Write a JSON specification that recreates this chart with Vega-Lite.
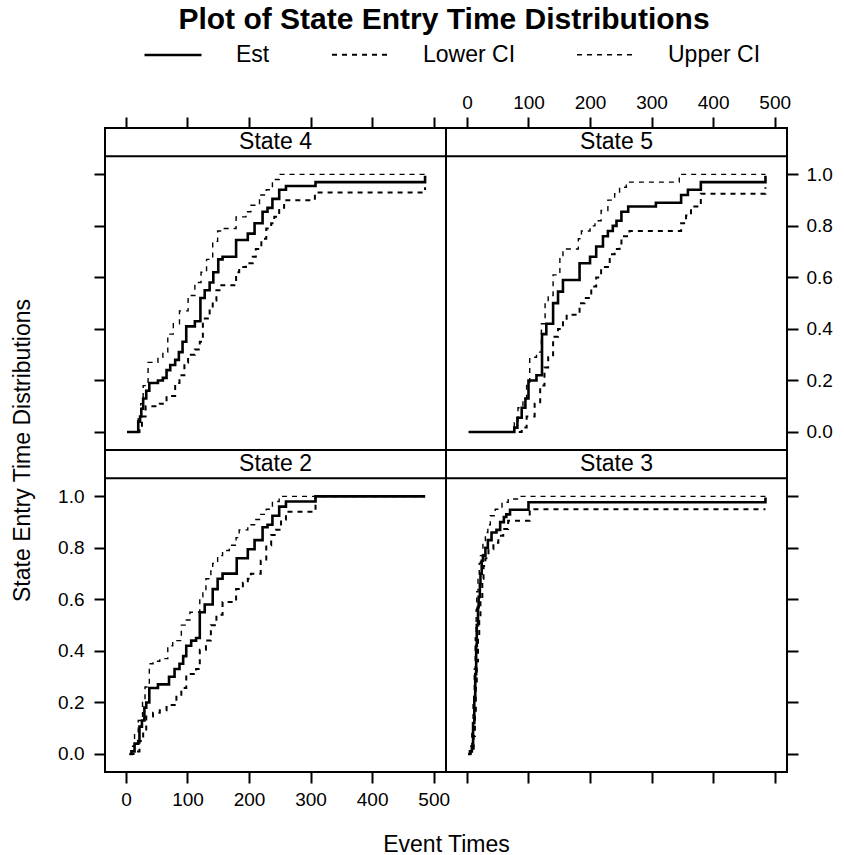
{
  "$schema": "https://vega.github.io/schema/vega-lite/v6.json",
  "background": "white",
  "padding": {"left": 10, "right": 5, "top": 5, "bottom": 5},
  "title": {"text": "Plot of State Entry Time Distributions", "font": "Liberation Sans", "fontSize": 30, "fontWeight": "bold", "color": "black", "anchor": "middle", "dx": 22, "offset": -10},
  "datasets": {
    "curves": [
      {"state":"State 4","series":"Est","time":2,"prob":0},
      {"state":"State 4","series":"Est","time":20,"prob":0.04},
      {"state":"State 4","series":"Est","time":23,"prob":0.06},
      {"state":"State 4","series":"Est","time":25,"prob":0.09},
      {"state":"State 4","series":"Est","time":28,"prob":0.13},
      {"state":"State 4","series":"Est","time":33,"prob":0.16},
      {"state":"State 4","series":"Est","time":38,"prob":0.19},
      {"state":"State 4","series":"Est","time":52,"prob":0.2},
      {"state":"State 4","series":"Est","time":60,"prob":0.21},
      {"state":"State 4","series":"Est","time":66,"prob":0.24},
      {"state":"State 4","series":"Est","time":72,"prob":0.26},
      {"state":"State 4","series":"Est","time":80,"prob":0.28},
      {"state":"State 4","series":"Est","time":86,"prob":0.31},
      {"state":"State 4","series":"Est","time":92,"prob":0.35},
      {"state":"State 4","series":"Est","time":98,"prob":0.41},
      {"state":"State 4","series":"Est","time":112,"prob":0.43},
      {"state":"State 4","series":"Est","time":121,"prob":0.52},
      {"state":"State 4","series":"Est","time":128,"prob":0.55},
      {"state":"State 4","series":"Est","time":136,"prob":0.58},
      {"state":"State 4","series":"Est","time":142,"prob":0.62},
      {"state":"State 4","series":"Est","time":150,"prob":0.67},
      {"state":"State 4","series":"Est","time":157,"prob":0.68},
      {"state":"State 4","series":"Est","time":179,"prob":0.745},
      {"state":"State 4","series":"Est","time":198,"prob":0.77},
      {"state":"State 4","series":"Est","time":209,"prob":0.81},
      {"state":"State 4","series":"Est","time":222,"prob":0.855},
      {"state":"State 4","series":"Est","time":230,"prob":0.87},
      {"state":"State 4","series":"Est","time":238,"prob":0.905},
      {"state":"State 4","series":"Est","time":249,"prob":0.94},
      {"state":"State 4","series":"Est","time":260,"prob":0.955},
      {"state":"State 4","series":"Est","time":308,"prob":0.97},
      {"state":"State 4","series":"Est","time":486,"prob":0.995},
      {"state":"State 4","series":"Upper CI","time":2,"prob":0},
      {"state":"State 4","series":"Upper CI","time":20,"prob":0.06},
      {"state":"State 4","series":"Upper CI","time":24,"prob":0.11},
      {"state":"State 4","series":"Upper CI","time":28,"prob":0.18},
      {"state":"State 4","series":"Upper CI","time":36,"prob":0.27},
      {"state":"State 4","series":"Upper CI","time":52,"prob":0.29},
      {"state":"State 4","series":"Upper CI","time":60,"prob":0.31},
      {"state":"State 4","series":"Upper CI","time":68,"prob":0.38},
      {"state":"State 4","series":"Upper CI","time":77,"prob":0.42},
      {"state":"State 4","series":"Upper CI","time":87,"prob":0.47},
      {"state":"State 4","series":"Upper CI","time":101,"prob":0.53},
      {"state":"State 4","series":"Upper CI","time":112,"prob":0.58},
      {"state":"State 4","series":"Upper CI","time":122,"prob":0.62},
      {"state":"State 4","series":"Upper CI","time":131,"prob":0.67},
      {"state":"State 4","series":"Upper CI","time":141,"prob":0.74},
      {"state":"State 4","series":"Upper CI","time":149,"prob":0.78},
      {"state":"State 4","series":"Upper CI","time":157,"prob":0.79},
      {"state":"State 4","series":"Upper CI","time":179,"prob":0.835},
      {"state":"State 4","series":"Upper CI","time":195,"prob":0.855},
      {"state":"State 4","series":"Upper CI","time":203,"prob":0.88},
      {"state":"State 4","series":"Upper CI","time":217,"prob":0.92},
      {"state":"State 4","series":"Upper CI","time":228,"prob":0.94},
      {"state":"State 4","series":"Upper CI","time":238,"prob":0.98},
      {"state":"State 4","series":"Upper CI","time":249,"prob":1.0},
      {"state":"State 4","series":"Upper CI","time":486,"prob":1.0},
      {"state":"State 4","series":"Lower CI","time":2,"prob":0},
      {"state":"State 4","series":"Lower CI","time":22,"prob":0.02},
      {"state":"State 4","series":"Lower CI","time":26,"prob":0.06},
      {"state":"State 4","series":"Lower CI","time":32,"prob":0.1},
      {"state":"State 4","series":"Lower CI","time":55,"prob":0.11},
      {"state":"State 4","series":"Lower CI","time":66,"prob":0.14},
      {"state":"State 4","series":"Lower CI","time":80,"prob":0.19},
      {"state":"State 4","series":"Lower CI","time":87,"prob":0.22},
      {"state":"State 4","series":"Lower CI","time":95,"prob":0.27},
      {"state":"State 4","series":"Lower CI","time":101,"prob":0.3},
      {"state":"State 4","series":"Lower CI","time":112,"prob":0.32},
      {"state":"State 4","series":"Lower CI","time":120,"prob":0.35},
      {"state":"State 4","series":"Lower CI","time":125,"prob":0.44},
      {"state":"State 4","series":"Lower CI","time":136,"prob":0.48},
      {"state":"State 4","series":"Lower CI","time":141,"prob":0.51},
      {"state":"State 4","series":"Lower CI","time":147,"prob":0.55},
      {"state":"State 4","series":"Lower CI","time":155,"prob":0.57},
      {"state":"State 4","series":"Lower CI","time":179,"prob":0.62},
      {"state":"State 4","series":"Lower CI","time":184,"prob":0.64},
      {"state":"State 4","series":"Lower CI","time":195,"prob":0.655},
      {"state":"State 4","series":"Lower CI","time":206,"prob":0.68},
      {"state":"State 4","series":"Lower CI","time":211,"prob":0.71},
      {"state":"State 4","series":"Lower CI","time":220,"prob":0.75},
      {"state":"State 4","series":"Lower CI","time":228,"prob":0.79},
      {"state":"State 4","series":"Lower CI","time":236,"prob":0.81},
      {"state":"State 4","series":"Lower CI","time":241,"prob":0.835},
      {"state":"State 4","series":"Lower CI","time":249,"prob":0.87},
      {"state":"State 4","series":"Lower CI","time":257,"prob":0.9},
      {"state":"State 4","series":"Lower CI","time":307,"prob":0.93},
      {"state":"State 4","series":"Lower CI","time":486,"prob":0.95},

      {"state":"State 5","series":"Est","time":3,"prob":0},
      {"state":"State 5","series":"Est","time":77,"prob":0.017},
      {"state":"State 5","series":"Est","time":82,"prob":0.055},
      {"state":"State 5","series":"Est","time":89,"prob":0.094},
      {"state":"State 5","series":"Est","time":95,"prob":0.13},
      {"state":"State 5","series":"Est","time":100,"prob":0.2},
      {"state":"State 5","series":"Est","time":113,"prob":0.22},
      {"state":"State 5","series":"Est","time":122,"prob":0.38},
      {"state":"State 5","series":"Est","time":129,"prob":0.42},
      {"state":"State 5","series":"Est","time":140,"prob":0.5},
      {"state":"State 5","series":"Est","time":148,"prob":0.545},
      {"state":"State 5","series":"Est","time":156,"prob":0.59},
      {"state":"State 5","series":"Est","time":183,"prob":0.655},
      {"state":"State 5","series":"Est","time":200,"prob":0.68},
      {"state":"State 5","series":"Est","time":210,"prob":0.72},
      {"state":"State 5","series":"Est","time":221,"prob":0.76},
      {"state":"State 5","series":"Est","time":229,"prob":0.78},
      {"state":"State 5","series":"Est","time":237,"prob":0.8},
      {"state":"State 5","series":"Est","time":243,"prob":0.82},
      {"state":"State 5","series":"Est","time":251,"prob":0.855},
      {"state":"State 5","series":"Est","time":262,"prob":0.875},
      {"state":"State 5","series":"Est","time":307,"prob":0.89},
      {"state":"State 5","series":"Est","time":348,"prob":0.92},
      {"state":"State 5","series":"Est","time":359,"prob":0.94},
      {"state":"State 5","series":"Est","time":380,"prob":0.97},
      {"state":"State 5","series":"Est","time":485,"prob":0.995},
      {"state":"State 5","series":"Upper CI","time":3,"prob":0},
      {"state":"State 5","series":"Upper CI","time":77,"prob":0.036},
      {"state":"State 5","series":"Upper CI","time":83,"prob":0.094},
      {"state":"State 5","series":"Upper CI","time":91,"prob":0.13},
      {"state":"State 5","series":"Upper CI","time":97,"prob":0.19},
      {"state":"State 5","series":"Upper CI","time":102,"prob":0.29},
      {"state":"State 5","series":"Upper CI","time":113,"prob":0.31},
      {"state":"State 5","series":"Upper CI","time":121,"prob":0.42},
      {"state":"State 5","series":"Upper CI","time":127,"prob":0.5},
      {"state":"State 5","series":"Upper CI","time":132,"prob":0.53},
      {"state":"State 5","series":"Upper CI","time":140,"prob":0.61},
      {"state":"State 5","series":"Upper CI","time":151,"prob":0.68},
      {"state":"State 5","series":"Upper CI","time":156,"prob":0.71},
      {"state":"State 5","series":"Upper CI","time":181,"prob":0.75},
      {"state":"State 5","series":"Upper CI","time":186,"prob":0.78},
      {"state":"State 5","series":"Upper CI","time":200,"prob":0.8},
      {"state":"State 5","series":"Upper CI","time":208,"prob":0.82},
      {"state":"State 5","series":"Upper CI","time":218,"prob":0.86},
      {"state":"State 5","series":"Upper CI","time":229,"prob":0.9},
      {"state":"State 5","series":"Upper CI","time":240,"prob":0.925},
      {"state":"State 5","series":"Upper CI","time":248,"prob":0.95},
      {"state":"State 5","series":"Upper CI","time":259,"prob":0.97},
      {"state":"State 5","series":"Upper CI","time":345,"prob":1.0},
      {"state":"State 5","series":"Upper CI","time":485,"prob":1.0},
      {"state":"State 5","series":"Lower CI","time":3,"prob":0},
      {"state":"State 5","series":"Lower CI","time":89,"prob":0.017},
      {"state":"State 5","series":"Lower CI","time":97,"prob":0.06},
      {"state":"State 5","series":"Lower CI","time":110,"prob":0.11},
      {"state":"State 5","series":"Lower CI","time":119,"prob":0.18},
      {"state":"State 5","series":"Lower CI","time":126,"prob":0.25},
      {"state":"State 5","series":"Lower CI","time":132,"prob":0.29},
      {"state":"State 5","series":"Lower CI","time":140,"prob":0.37},
      {"state":"State 5","series":"Lower CI","time":148,"prob":0.4},
      {"state":"State 5","series":"Lower CI","time":156,"prob":0.435},
      {"state":"State 5","series":"Lower CI","time":162,"prob":0.455},
      {"state":"State 5","series":"Lower CI","time":183,"prob":0.5},
      {"state":"State 5","series":"Lower CI","time":191,"prob":0.52},
      {"state":"State 5","series":"Lower CI","time":202,"prob":0.565},
      {"state":"State 5","series":"Lower CI","time":210,"prob":0.6},
      {"state":"State 5","series":"Lower CI","time":218,"prob":0.64},
      {"state":"State 5","series":"Lower CI","time":232,"prob":0.69},
      {"state":"State 5","series":"Lower CI","time":240,"prob":0.71},
      {"state":"State 5","series":"Lower CI","time":248,"prob":0.725},
      {"state":"State 5","series":"Lower CI","time":251,"prob":0.76},
      {"state":"State 5","series":"Lower CI","time":264,"prob":0.78},
      {"state":"State 5","series":"Lower CI","time":348,"prob":0.81},
      {"state":"State 5","series":"Lower CI","time":356,"prob":0.84},
      {"state":"State 5","series":"Lower CI","time":364,"prob":0.875},
      {"state":"State 5","series":"Lower CI","time":380,"prob":0.925},
      {"state":"State 5","series":"Lower CI","time":485,"prob":0.95},

      {"state":"State 2","series":"Est","time":6,"prob":0},
      {"state":"State 2","series":"Est","time":9,"prob":0.01},
      {"state":"State 2","series":"Est","time":14,"prob":0.04},
      {"state":"State 2","series":"Est","time":20,"prob":0.05},
      {"state":"State 2","series":"Est","time":22,"prob":0.106},
      {"state":"State 2","series":"Est","time":26,"prob":0.13},
      {"state":"State 2","series":"Est","time":30,"prob":0.18},
      {"state":"State 2","series":"Est","time":33,"prob":0.2},
      {"state":"State 2","series":"Est","time":38,"prob":0.256},
      {"state":"State 2","series":"Est","time":52,"prob":0.27},
      {"state":"State 2","series":"Est","time":70,"prob":0.3},
      {"state":"State 2","series":"Est","time":79,"prob":0.33},
      {"state":"State 2","series":"Est","time":87,"prob":0.35},
      {"state":"State 2","series":"Est","time":93,"prob":0.38},
      {"state":"State 2","series":"Est","time":98,"prob":0.42},
      {"state":"State 2","series":"Est","time":106,"prob":0.44},
      {"state":"State 2","series":"Est","time":114,"prob":0.45},
      {"state":"State 2","series":"Est","time":120,"prob":0.55},
      {"state":"State 2","series":"Est","time":128,"prob":0.58},
      {"state":"State 2","series":"Est","time":141,"prob":0.64},
      {"state":"State 2","series":"Est","time":149,"prob":0.68},
      {"state":"State 2","series":"Est","time":157,"prob":0.7},
      {"state":"State 2","series":"Est","time":180,"prob":0.76},
      {"state":"State 2","series":"Est","time":198,"prob":0.795},
      {"state":"State 2","series":"Est","time":209,"prob":0.83},
      {"state":"State 2","series":"Est","time":222,"prob":0.88},
      {"state":"State 2","series":"Est","time":230,"prob":0.89},
      {"state":"State 2","series":"Est","time":238,"prob":0.925},
      {"state":"State 2","series":"Est","time":249,"prob":0.96},
      {"state":"State 2","series":"Est","time":260,"prob":0.98},
      {"state":"State 2","series":"Est","time":308,"prob":1.0},
      {"state":"State 2","series":"Est","time":486,"prob":1.0},
      {"state":"State 2","series":"Upper CI","time":6,"prob":0},
      {"state":"State 2","series":"Upper CI","time":9,"prob":0.03},
      {"state":"State 2","series":"Upper CI","time":14,"prob":0.08},
      {"state":"State 2","series":"Upper CI","time":20,"prob":0.13},
      {"state":"State 2","series":"Upper CI","time":27,"prob":0.2},
      {"state":"State 2","series":"Upper CI","time":31,"prob":0.26},
      {"state":"State 2","series":"Upper CI","time":38,"prob":0.35},
      {"state":"State 2","series":"Upper CI","time":44,"prob":0.36},
      {"state":"State 2","series":"Upper CI","time":55,"prob":0.37},
      {"state":"State 2","series":"Upper CI","time":68,"prob":0.42},
      {"state":"State 2","series":"Upper CI","time":76,"prob":0.44},
      {"state":"State 2","series":"Upper CI","time":90,"prob":0.5},
      {"state":"State 2","series":"Upper CI","time":98,"prob":0.52},
      {"state":"State 2","series":"Upper CI","time":104,"prob":0.55},
      {"state":"State 2","series":"Upper CI","time":120,"prob":0.61},
      {"state":"State 2","series":"Upper CI","time":125,"prob":0.63},
      {"state":"State 2","series":"Upper CI","time":130,"prob":0.68},
      {"state":"State 2","series":"Upper CI","time":138,"prob":0.71},
      {"state":"State 2","series":"Upper CI","time":141,"prob":0.74},
      {"state":"State 2","series":"Upper CI","time":149,"prob":0.77},
      {"state":"State 2","series":"Upper CI","time":157,"prob":0.79},
      {"state":"State 2","series":"Upper CI","time":168,"prob":0.81},
      {"state":"State 2","series":"Upper CI","time":179,"prob":0.84},
      {"state":"State 2","series":"Upper CI","time":184,"prob":0.87},
      {"state":"State 2","series":"Upper CI","time":198,"prob":0.89},
      {"state":"State 2","series":"Upper CI","time":209,"prob":0.91},
      {"state":"State 2","series":"Upper CI","time":217,"prob":0.93},
      {"state":"State 2","series":"Upper CI","time":228,"prob":0.95},
      {"state":"State 2","series":"Upper CI","time":238,"prob":0.98},
      {"state":"State 2","series":"Upper CI","time":249,"prob":1.0},
      {"state":"State 2","series":"Upper CI","time":486,"prob":1.0},
      {"state":"State 2","series":"Lower CI","time":6,"prob":0},
      {"state":"State 2","series":"Lower CI","time":17,"prob":0.01},
      {"state":"State 2","series":"Lower CI","time":22,"prob":0.05},
      {"state":"State 2","series":"Lower CI","time":28,"prob":0.09},
      {"state":"State 2","series":"Lower CI","time":33,"prob":0.145},
      {"state":"State 2","series":"Lower CI","time":44,"prob":0.16},
      {"state":"State 2","series":"Lower CI","time":55,"prob":0.17},
      {"state":"State 2","series":"Lower CI","time":66,"prob":0.19},
      {"state":"State 2","series":"Lower CI","time":82,"prob":0.23},
      {"state":"State 2","series":"Lower CI","time":90,"prob":0.256},
      {"state":"State 2","series":"Lower CI","time":98,"prob":0.31},
      {"state":"State 2","series":"Lower CI","time":114,"prob":0.33},
      {"state":"State 2","series":"Lower CI","time":120,"prob":0.405},
      {"state":"State 2","series":"Lower CI","time":130,"prob":0.44},
      {"state":"State 2","series":"Lower CI","time":138,"prob":0.5},
      {"state":"State 2","series":"Lower CI","time":147,"prob":0.54},
      {"state":"State 2","series":"Lower CI","time":157,"prob":0.59},
      {"state":"State 2","series":"Lower CI","time":179,"prob":0.64},
      {"state":"State 2","series":"Lower CI","time":190,"prob":0.665},
      {"state":"State 2","series":"Lower CI","time":198,"prob":0.68},
      {"state":"State 2","series":"Lower CI","time":203,"prob":0.7},
      {"state":"State 2","series":"Lower CI","time":219,"prob":0.75},
      {"state":"State 2","series":"Lower CI","time":228,"prob":0.81},
      {"state":"State 2","series":"Lower CI","time":236,"prob":0.85},
      {"state":"State 2","series":"Lower CI","time":244,"prob":0.87},
      {"state":"State 2","series":"Lower CI","time":252,"prob":0.91},
      {"state":"State 2","series":"Lower CI","time":260,"prob":0.94},
      {"state":"State 2","series":"Lower CI","time":308,"prob":1.0},
      {"state":"State 2","series":"Lower CI","time":486,"prob":1.0},

      {"state":"State 3","series":"Est","time":2,"prob":0},
      {"state":"State 3","series":"Est","time":5,"prob":0.01},
      {"state":"State 3","series":"Est","time":8,"prob":0.03},
      {"state":"State 3","series":"Est","time":10,"prob":0.12},
      {"state":"State 3","series":"Est","time":12,"prob":0.22},
      {"state":"State 3","series":"Est","time":13.5,"prob":0.31},
      {"state":"State 3","series":"Est","time":15,"prob":0.42},
      {"state":"State 3","series":"Est","time":16,"prob":0.5},
      {"state":"State 3","series":"Est","time":18,"prob":0.57},
      {"state":"State 3","series":"Est","time":19,"prob":0.61},
      {"state":"State 3","series":"Est","time":21,"prob":0.66},
      {"state":"State 3","series":"Est","time":22,"prob":0.7},
      {"state":"State 3","series":"Est","time":24,"prob":0.75},
      {"state":"State 3","series":"Est","time":26,"prob":0.77},
      {"state":"State 3","series":"Est","time":30,"prob":0.8},
      {"state":"State 3","series":"Est","time":34,"prob":0.83},
      {"state":"State 3","series":"Est","time":40,"prob":0.86},
      {"state":"State 3","series":"Est","time":48,"prob":0.87},
      {"state":"State 3","series":"Est","time":54,"prob":0.9},
      {"state":"State 3","series":"Est","time":60,"prob":0.92},
      {"state":"State 3","series":"Est","time":64,"prob":0.93},
      {"state":"State 3","series":"Est","time":70,"prob":0.948},
      {"state":"State 3","series":"Est","time":100,"prob":0.977},
      {"state":"State 3","series":"Est","time":485,"prob":0.996},
      {"state":"State 3","series":"Upper CI","time":2,"prob":0},
      {"state":"State 3","series":"Upper CI","time":5,"prob":0.03},
      {"state":"State 3","series":"Upper CI","time":8,"prob":0.08},
      {"state":"State 3","series":"Upper CI","time":10,"prob":0.2},
      {"state":"State 3","series":"Upper CI","time":12,"prob":0.33},
      {"state":"State 3","series":"Upper CI","time":13.5,"prob":0.45},
      {"state":"State 3","series":"Upper CI","time":15,"prob":0.56},
      {"state":"State 3","series":"Upper CI","time":16,"prob":0.63},
      {"state":"State 3","series":"Upper CI","time":18,"prob":0.69},
      {"state":"State 3","series":"Upper CI","time":20,"prob":0.74},
      {"state":"State 3","series":"Upper CI","time":22,"prob":0.77},
      {"state":"State 3","series":"Upper CI","time":26,"prob":0.82},
      {"state":"State 3","series":"Upper CI","time":30,"prob":0.86},
      {"state":"State 3","series":"Upper CI","time":34,"prob":0.89},
      {"state":"State 3","series":"Upper CI","time":38,"prob":0.925},
      {"state":"State 3","series":"Upper CI","time":46,"prob":0.95},
      {"state":"State 3","series":"Upper CI","time":57,"prob":0.977},
      {"state":"State 3","series":"Upper CI","time":67,"prob":0.99},
      {"state":"State 3","series":"Upper CI","time":84,"prob":1.0},
      {"state":"State 3","series":"Upper CI","time":485,"prob":1.0},
      {"state":"State 3","series":"Lower CI","time":2,"prob":0},
      {"state":"State 3","series":"Lower CI","time":6,"prob":0.005},
      {"state":"State 3","series":"Lower CI","time":9,"prob":0.02},
      {"state":"State 3","series":"Lower CI","time":11,"prob":0.07},
      {"state":"State 3","series":"Lower CI","time":13,"prob":0.16},
      {"state":"State 3","series":"Lower CI","time":14.5,"prob":0.26},
      {"state":"State 3","series":"Lower CI","time":16,"prob":0.36},
      {"state":"State 3","series":"Lower CI","time":18,"prob":0.45},
      {"state":"State 3","series":"Lower CI","time":20,"prob":0.53},
      {"state":"State 3","series":"Lower CI","time":22,"prob":0.6},
      {"state":"State 3","series":"Lower CI","time":25,"prob":0.68},
      {"state":"State 3","series":"Lower CI","time":27,"prob":0.73},
      {"state":"State 3","series":"Lower CI","time":30,"prob":0.76},
      {"state":"State 3","series":"Lower CI","time":35,"prob":0.795},
      {"state":"State 3","series":"Lower CI","time":43,"prob":0.82},
      {"state":"State 3","series":"Lower CI","time":51,"prob":0.847},
      {"state":"State 3","series":"Lower CI","time":59,"prob":0.873},
      {"state":"State 3","series":"Lower CI","time":67,"prob":0.905},
      {"state":"State 3","series":"Lower CI","time":102,"prob":0.95},
      {"state":"State 3","series":"Lower CI","time":485,"prob":0.95}
    ]
  },
  "columns": 2,
  "spacing": 0,
  "bounds": "flush",
  "resolve": {"scale": {"strokeDash": "shared", "strokeWidth": "shared"}, "legend": {"strokeDash": "shared", "strokeWidth": "shared"}},
  "concat": [
    {
      "width": 341, "height": 322,
      "layer": [
        {
          "data": {"name": "curves"},
          "transform": [{"filter": "datum.state == 'State 4'"}],
          "mark": {"type": "line", "interpolate": "step-after", "color": "black"},
          "encoding": {
            "x": {"field": "time", "type": "quantitative", "scale": {"domain": [-34, 520], "nice": false, "zero": false}, "axis": {"orient": "top", "labels": false, "title": null, "values": [0, 100, 200, 300, 400, 500]}},
            "y": {"field": "prob", "type": "quantitative", "scale": {"domain": [-0.07, 1.18], "nice": false, "zero": false}, "axis": {"orient": "left", "labels": false, "title": null, "values": [0, 0.2, 0.4, 0.6, 0.8, 1.0]}},
            "strokeDash": {"field": "series", "type": "nominal", "scale": {"domain": ["Est", "Lower CI", "Upper CI"], "range": [[1, 0], [5, 5], [5, 5]]}, "legend": {"title": null}},
            "strokeWidth": {"field": "series", "type": "nominal", "scale": {"domain": ["Est", "Lower CI", "Upper CI"], "range": [2.6, 1.4, 1.4]}, "legend": {"title": null}}
          }
        },
        {
          "data": {"values": [{"label": "State 4"}]},
          "mark": {"type": "rect", "fill": "white", "stroke": "black", "strokeWidth": 2},
          "encoding": {
            "x": {"datum": -34, "type": "quantitative"},
            "x2": {"datum": 520},
            "y": {"datum": 1.07, "type": "quantitative"},
            "y2": {"datum": 1.18}
          }
        },
        {
          "data": {"values": [{"label": "State 4"}]},
          "mark": {"type": "text", "font": "Liberation Sans", "fontSize": 23, "color": "black", "baseline": "middle", "align": "center"},
          "encoding": {
            "x": {"datum": 243, "type": "quantitative"},
            "y": {"datum": 1.125, "type": "quantitative"},
            "text": {"field": "label"}
          }
        }
      ]
    },
    {
      "width": 341, "height": 322,
      "layer": [
        {
          "data": {"name": "curves"},
          "transform": [{"filter": "datum.state == 'State 5'"}],
          "mark": {"type": "line", "interpolate": "step-after", "color": "black"},
          "encoding": {
            "x": {"field": "time", "type": "quantitative", "scale": {"domain": [-34, 520], "nice": false, "zero": false}, "axis": {"orient": "top", "title": null, "labelPadding": 5, "values": [0, 100, 200, 300, 400, 500]}},
            "y": {"field": "prob", "type": "quantitative", "scale": {"domain": [-0.07, 1.18], "nice": false, "zero": false}, "axis": {"orient": "right", "title": null, "format": ".1f", "values": [0, 0.2, 0.4, 0.6, 0.8, 1.0]}},
            "strokeDash": {"field": "series", "type": "nominal", "scale": {"domain": ["Est", "Lower CI", "Upper CI"], "range": [[1, 0], [5, 5], [5, 5]]}, "legend": {"title": null}},
            "strokeWidth": {"field": "series", "type": "nominal", "scale": {"domain": ["Est", "Lower CI", "Upper CI"], "range": [2.6, 1.4, 1.4]}, "legend": {"title": null}}
          }
        },
        {
          "data": {"values": [{"label": "State 5"}]},
          "mark": {"type": "rect", "fill": "white", "stroke": "black", "strokeWidth": 2},
          "encoding": {
            "x": {"datum": -34, "type": "quantitative"},
            "x2": {"datum": 520},
            "y": {"datum": 1.07, "type": "quantitative"},
            "y2": {"datum": 1.18}
          }
        },
        {
          "data": {"values": [{"label": "State 5"}]},
          "mark": {"type": "text", "font": "Liberation Sans", "fontSize": 23, "color": "black", "baseline": "middle", "align": "center"},
          "encoding": {
            "x": {"datum": 243, "type": "quantitative"},
            "y": {"datum": 1.125, "type": "quantitative"},
            "text": {"field": "label"}
          }
        }
      ]
    },
    {
      "width": 341, "height": 322,
      "layer": [
        {
          "data": {"name": "curves"},
          "transform": [{"filter": "datum.state == 'State 2'"}],
          "mark": {"type": "line", "interpolate": "step-after", "color": "black"},
          "encoding": {
            "x": {"field": "time", "type": "quantitative", "scale": {"domain": [-34, 520], "nice": false, "zero": false}, "axis": {"orient": "bottom", "title": "Event Times", "titleX": 341, "titlePadding": 24, "titleFontSize": 23, "labelPadding": 7, "values": [0, 100, 200, 300, 400, 500]}},
            "y": {"field": "prob", "type": "quantitative", "scale": {"domain": [-0.07, 1.18], "nice": false, "zero": false}, "axis": {"orient": "left", "title": "State Entry Time Distributions", "titleY": 0, "titlePadding": 23, "titleFontSize": 23, "labelPadding": 10, "format": ".1f", "values": [0, 0.2, 0.4, 0.6, 0.8, 1.0]}},
            "strokeDash": {"field": "series", "type": "nominal", "scale": {"domain": ["Est", "Lower CI", "Upper CI"], "range": [[1, 0], [5, 5], [5, 5]]}, "legend": {"title": null}},
            "strokeWidth": {"field": "series", "type": "nominal", "scale": {"domain": ["Est", "Lower CI", "Upper CI"], "range": [2.6, 1.4, 1.4]}, "legend": {"title": null}}
          }
        },
        {
          "data": {"values": [{"label": "State 2"}]},
          "mark": {"type": "rect", "fill": "white", "stroke": "black", "strokeWidth": 2},
          "encoding": {
            "x": {"datum": -34, "type": "quantitative"},
            "x2": {"datum": 520},
            "y": {"datum": 1.07, "type": "quantitative"},
            "y2": {"datum": 1.18}
          }
        },
        {
          "data": {"values": [{"label": "State 2"}]},
          "mark": {"type": "text", "font": "Liberation Sans", "fontSize": 23, "color": "black", "baseline": "middle", "align": "center"},
          "encoding": {
            "x": {"datum": 243, "type": "quantitative"},
            "y": {"datum": 1.125, "type": "quantitative"},
            "text": {"field": "label"}
          }
        }
      ]
    },
    {
      "width": 341, "height": 322,
      "layer": [
        {
          "data": {"name": "curves"},
          "transform": [{"filter": "datum.state == 'State 3'"}],
          "mark": {"type": "line", "interpolate": "step-after", "color": "black"},
          "encoding": {
            "x": {"field": "time", "type": "quantitative", "scale": {"domain": [-34, 520], "nice": false, "zero": false}, "axis": {"orient": "bottom", "labels": false, "title": null, "values": [0, 100, 200, 300, 400, 500]}},
            "y": {"field": "prob", "type": "quantitative", "scale": {"domain": [-0.07, 1.18], "nice": false, "zero": false}, "axis": {"orient": "right", "labels": false, "title": null, "values": [0, 0.2, 0.4, 0.6, 0.8, 1.0]}},
            "strokeDash": {"field": "series", "type": "nominal", "scale": {"domain": ["Est", "Lower CI", "Upper CI"], "range": [[1, 0], [5, 5], [5, 5]]}, "legend": {"title": null}},
            "strokeWidth": {"field": "series", "type": "nominal", "scale": {"domain": ["Est", "Lower CI", "Upper CI"], "range": [2.6, 1.4, 1.4]}, "legend": {"title": null}}
          }
        },
        {
          "data": {"values": [{"label": "State 3"}]},
          "mark": {"type": "rect", "fill": "white", "stroke": "black", "strokeWidth": 2},
          "encoding": {
            "x": {"datum": -34, "type": "quantitative"},
            "x2": {"datum": 520},
            "y": {"datum": 1.07, "type": "quantitative"},
            "y2": {"datum": 1.18}
          }
        },
        {
          "data": {"values": [{"label": "State 3"}]},
          "mark": {"type": "text", "font": "Liberation Sans", "fontSize": 23, "color": "black", "baseline": "middle", "align": "center"},
          "encoding": {
            "x": {"datum": 243, "type": "quantitative"},
            "y": {"datum": 1.125, "type": "quantitative"},
            "text": {"field": "label"}
          }
        }
      ]
    }
  ],
  "config": {
    "view": {"stroke": "black", "strokeWidth": 2},
    "axis": {"domain": false, "grid": false, "ticks": true, "tickColor": "black", "tickWidth": 2, "tickSize": 11, "labelFont": "Liberation Sans", "labelFontSize": 19, "labelColor": "black", "labelPadding": 8, "titleFont": "Liberation Sans", "titleFontSize": 23, "titleFontWeight": "normal", "titleColor": "black"},
    "legend": {"orient": "none", "legendX": 38, "legendY": -103, "direction": "horizontal", "labelFont": "Liberation Sans", "labelFontSize": 23, "labelColor": "black", "symbolType": "stroke", "symbolSize": 3249, "symbolStrokeColor": "black", "labelOffset": 33, "columnPadding": 58}
  }
}
